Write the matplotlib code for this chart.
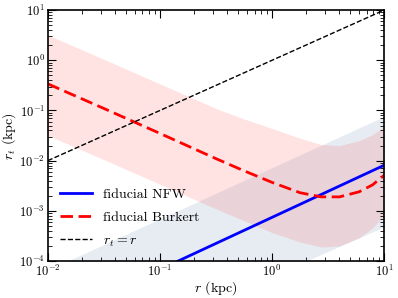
import matplotlib
matplotlib.use("Agg")
import numpy as np
import matplotlib.pyplot as plt

plt.rcParams["font.family"] = "serif"
plt.rcParams["font.serif"] = ["cmr10", "DejaVu Serif"]
plt.rcParams["mathtext.fontset"] = "cm"
plt.rcParams["axes.formatter.use_mathtext"] = True
plt.rcParams["axes.unicode_minus"] = False

# ── Data ─────────────────────────────────────────────────────
r_nfw      = [0.01, 10.0]
rt_nfw     = [6.2e-6, 8.1e-3]
rt_nfw_hi  = [6.6e-5, 7.6e-2]
rt_nfw_lo  = [5.5e-7, 4.8e-4]

r_bur      = [0.01, 0.0316, 0.1, 0.316, 0.562, 1.0, 1.78, 2.75, 4.0, 6.0, 7.9, 10.0]
rt_bur     = [3.4e-1, 1.1e-1, 3.5e-2, 1.1e-2, 6.3e-3, 3.7e-3, 2.3e-3,
              1.9e-3, 1.9e-3, 2.4e-3, 3.3e-3, 5.1e-3]
rt_bur_hi  = [3.2, 1.05, 3.4e-1, 1.1e-1, 6.8e-2, 4.4e-2, 2.8e-2,
              2.1e-2, 2.0e-2, 2.5e-2, 3.3e-2, 4.8e-2]
rt_bur_lo  = [3.2e-2, 1.05e-2, 3.4e-3, 1.1e-3, 6.4e-4, 3.7e-4, 2.4e-4,
              1.9e-4, 2.0e-4, 2.9e-4, 4.6e-4, 8.0e-4]

r_line     = [0.01, 10.0]

# ── Plot ─────────────────────────────────────────────────────
fig = plt.figure(figsize=(3.98, 2.98), dpi=100)
ax = fig.add_axes([0.12, 0.124, 0.845, 0.842])

ax.fill_between(r_nfw, rt_nfw_lo, rt_nfw_hi, color="#6080b0", alpha=0.15, lw=0)
ax.fill_between(r_bur, rt_bur_lo, rt_bur_hi, color="red", alpha=0.11, lw=0)

ax.plot(r_nfw, rt_nfw, color="#0000ff", lw=2, label="fiducial NFW")
ax.plot(r_bur, rt_bur, color="#ff0000", lw=2, ls=(0, (4.5, 2)), label="fiducial Burkert")
ax.plot(r_line, r_line, color="black", lw=1, ls="--", label=r"$r_t = r$")

ax.set_xscale("log")
ax.set_yscale("log")
ax.set_xlim(1e-2, 1e1)
ax.set_ylim(1e-4, 1e1)
ax.set_xlabel(r"$r$ (kpc)", fontsize=10, labelpad=0)
ax.set_ylabel(r"$r_t$ (kpc)", fontsize=10, labelpad=1)
ax.tick_params(which="both", direction="in", top=True, right=True, labelsize=9)
ax.tick_params(which="major", length=6, pad=2)
ax.tick_params(which="minor", length=3)
ax.yaxis.set_minor_locator(matplotlib.ticker.LogLocator(base=10, subs=np.arange(2, 10), numticks=20))
ax.yaxis.set_minor_formatter(matplotlib.ticker.NullFormatter())
for s in ax.spines.values():
    s.set_linewidth(1.2)

ax.legend(loc="lower left", frameon=False, fontsize=10, handlelength=2.3,
          labelspacing=0.75, borderaxespad=0.5)

plt.savefig("out.png", dpi=100)
